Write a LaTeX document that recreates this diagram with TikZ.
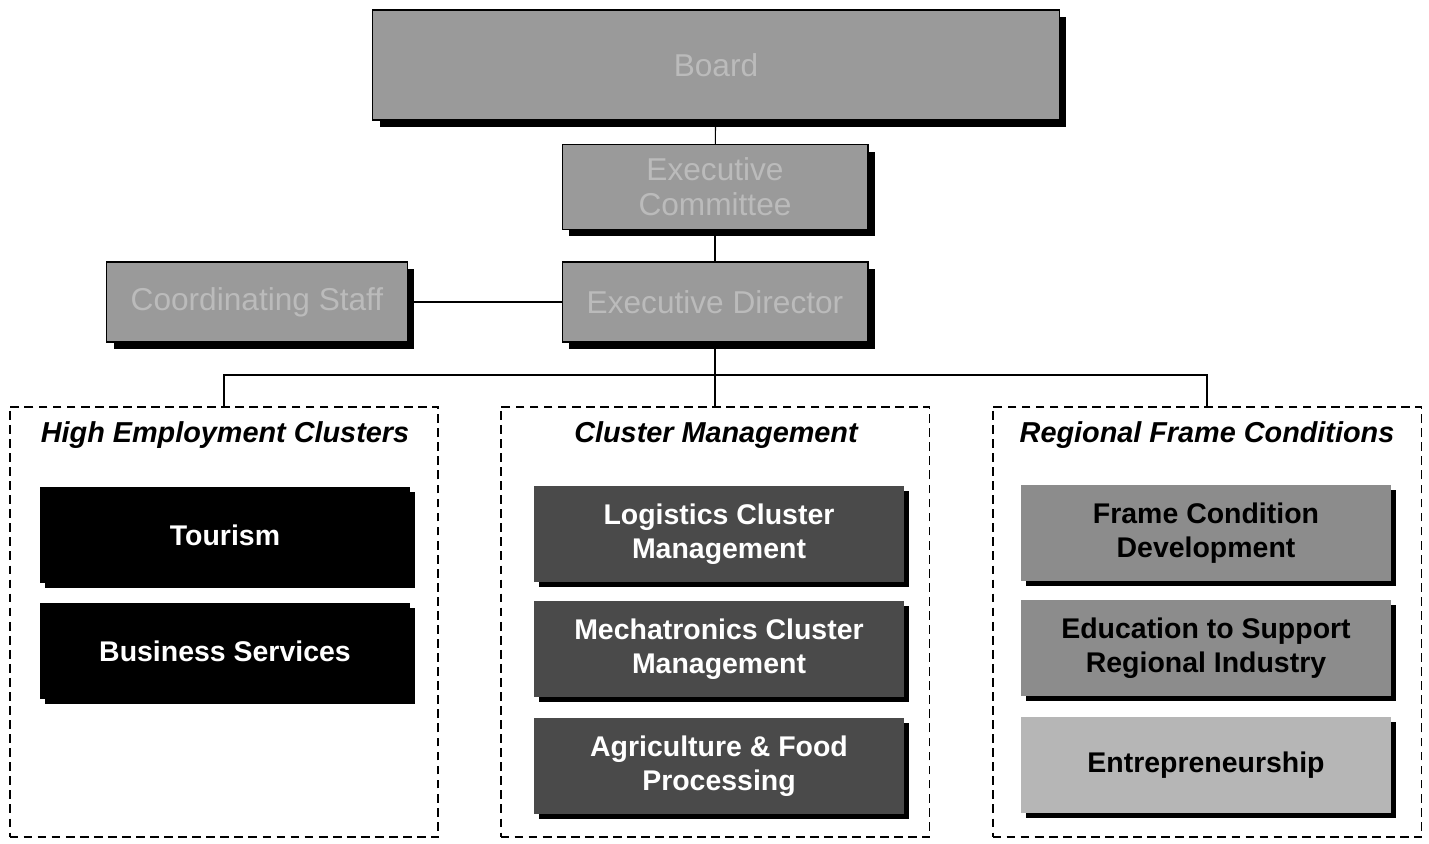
\documentclass[tikz,border=0pt]{standalone}
\usepackage{fontspec}
\setmainfont{Liberation Sans}
\usepackage{tikz}
\usetikzlibrary{positioning,shadows,calc}
\definecolor{topgray}{HTML}{9A9A9A}
\definecolor{toptext}{HTML}{BBBBBB}
\definecolor{darkunit}{HTML}{4A4A4A}
\definecolor{midunit}{HTML}{8C8C8C}
\definecolor{lightunit}{HTML}{B6B6B6}

\begin{document}
\begin{tikzpicture}[x=0.02cm,y=-0.02cm,
  topbox/.style={draw=black,line width=0.6pt,fill=topgray,text=toptext,font=\fontsize{18}{20}\selectfont,align=center,inner sep=0pt,
    drop shadow={shadow xshift=0.14cm,shadow yshift=-0.14cm,fill=black,opacity=1}},
  frame/.style={draw=black,line width=1.1pt,dash pattern=on 5pt off 3pt,inner sep=0pt,minimum width=8.58cm,minimum height=8.62cm},
  heading/.style={font=\fontsize{16.4}{19}\selectfont\bfseries\itshape},
  unit/.style={inner sep=0pt,minimum width=7.4cm,minimum height=1.94cm,align=center,font=\fontsize{16.2}{19.5}\selectfont\bfseries,
    drop shadow={shadow xshift=0.1cm,shadow yshift=-0.1cm,fill=black,opacity=1}},
  link/.style={line width=0.6pt}]
\useasboundingbox (0,0) rectangle (1429,844);

% top of the chart
\node[topbox,minimum width=13.74cm,minimum height=2.2cm] (board) at (716,65) {Board};
\node[topbox,minimum width=6.12cm,minimum height=1.7cm] (ec) at (715,187) {Executive\\Committee};
\node[topbox,minimum width=6.12cm,minimum height=1.6cm] (ed) at (715,302) {Executive Director};
\node[topbox,minimum width=6.02cm,minimum height=1.6cm] (cs) at (257,302) {Coordinating Staff};

% the three groups
\node[frame] (hec) at (224,622) {};
\node[frame] (cm) at (715,622) {};
\node[frame] (rfc) at (1207,622) {};
\node[heading] (hect) at (225,435) {High Employment Clusters};
\node[heading] (cmt) at (716,435) {Cluster Management};
\node[heading] (rfct) at (1207,435) {Regional Frame Conditions};

\node[unit,fill=black,text=white] (tour) at (225,535) {Tourism};
\node[unit,fill=black,text=white] (bus) at (225,651) {Business Services};

\node[unit,fill=darkunit,text=white] (logi) at (719,534) {Logistics Cluster\\Management};
\node[unit,fill=darkunit,text=white] (mech) at (719,649) {Mechatronics Cluster\\Management};
\node[unit,fill=darkunit,text=white] (agri) at (719,766) {Agriculture \& Food\\Processing};

\node[unit,fill=midunit,text=black] (fcd) at (1206,533) {Frame Condition\\Development};
\node[unit,fill=midunit,text=black] (edu) at (1206,648) {Education to Support\\Regional Industry};
\node[unit,fill=lightunit,text=black] (entr) at (1206,765) {Entrepreneurship};

% connectors
\coordinate (split) at (715,375);
\draw[link] (board) -- (ec);
\draw[link] (ec) -- (ed);
\draw[link] (cs) -- (ed);
\draw[link] (ed) -- (cm);
\draw[link] (hec.north) |- (split) -| (rfc.north);
\end{tikzpicture}
\end{document}
